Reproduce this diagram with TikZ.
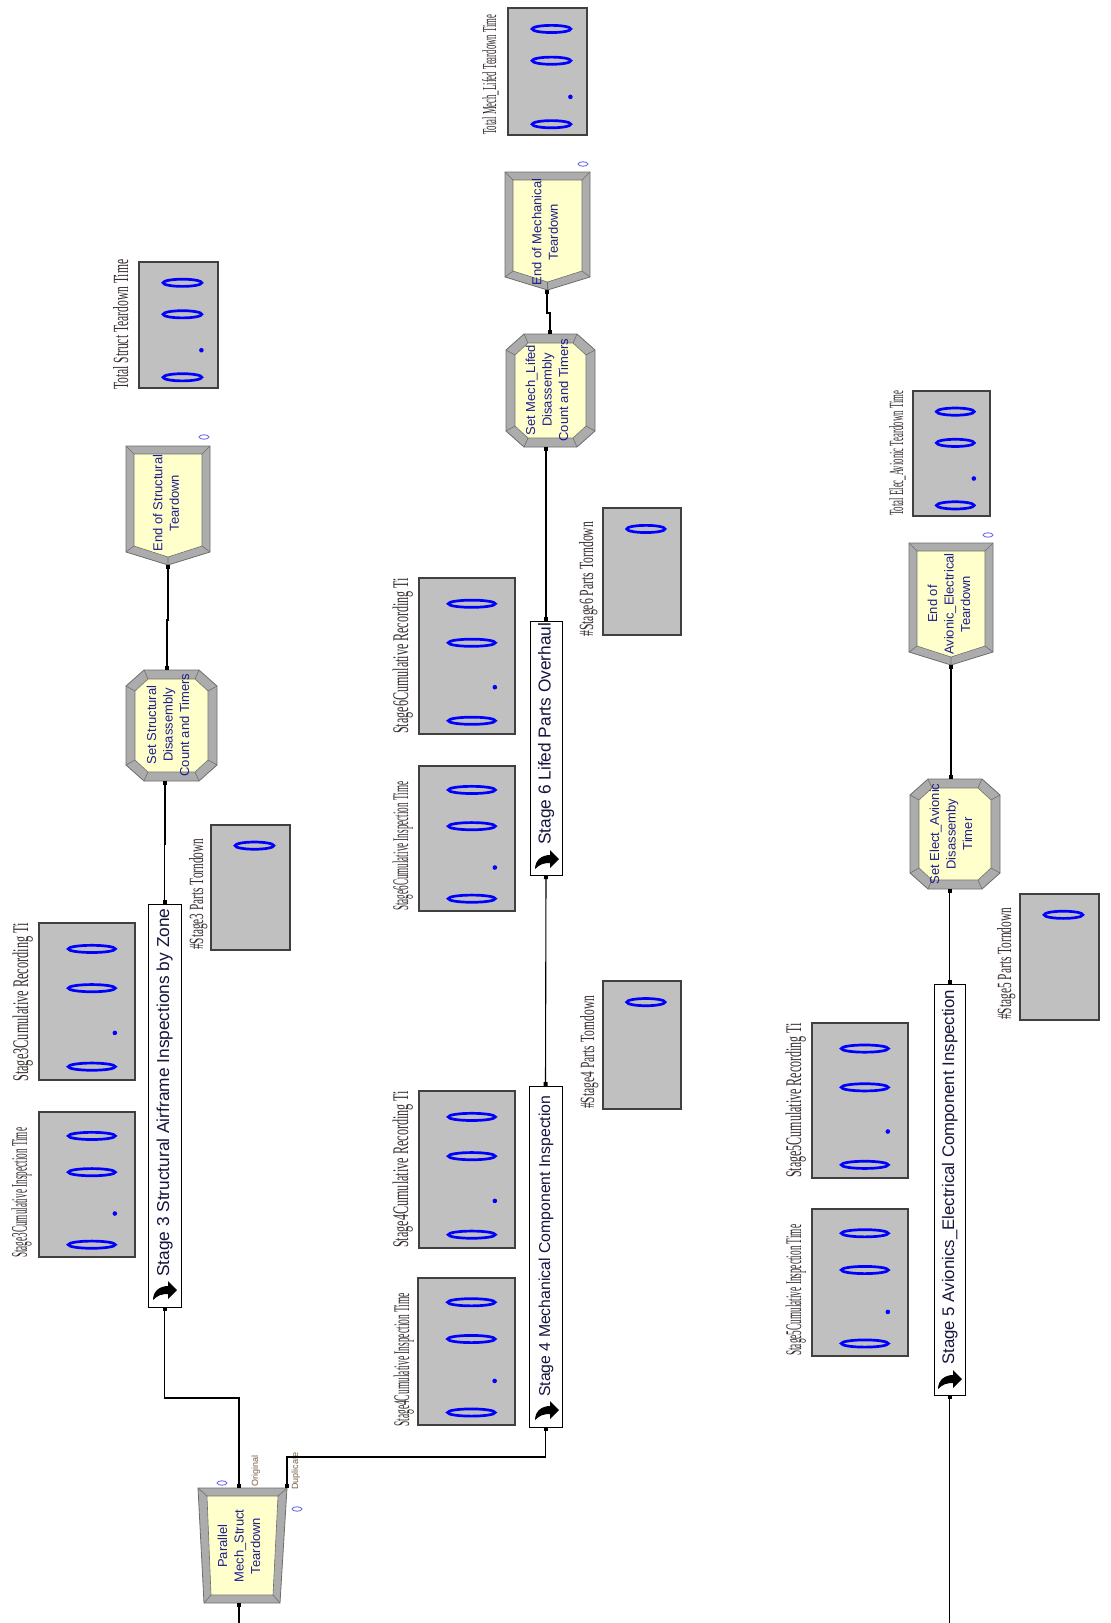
\documentclass[tikz,border=0pt]{standalone}
\usepackage{fontspec}
\usepackage{graphicx}
\setmainfont{Liberation Sans}
\newfontfamily\lblfont{Liberation Serif}
\usetikzlibrary{arrows.meta}
\definecolor{modyellow}{RGB}{255,255,204}
\definecolor{bevel}{RGB}{172,172,172}
\definecolor{beveldark}{RGB}{110,110,110}
\definecolor{dispgray}{RGB}{192,192,192}
\definecolor{digitblue}{RGB}{0,0,255}
\definecolor{modtext}{RGB}{30,30,140}
\definecolor{stagetextc}{RGB}{20,20,60}
\definecolor{lbltext}{RGB}{55,45,45}
\definecolor{smalltext}{RGB}{120,95,70}
\definecolor{countc}{RGB}{110,110,230}

\tikzset{
  conn/.style={line width=1.1pt, draw=black, arrows={Square[length=4pt,width=4pt]-Square[length=4pt,width=4pt]}},
  connin/.style={line width=1.1pt, draw=black, arrows={-Square[length=4pt,width=4pt]}},
  stagebox/.style={draw=black, fill=white, line width=1pt, inner sep=0pt, outer sep=0pt, rotate=90},
  stagetxt/.style={text=stagetextc, inner sep=0pt, rotate=90, anchor=base west},
  modtxt/.style={text=modtext, font=\fontsize{13}{16.5}\selectfont, align=center, inner sep=0pt, rotate=90},
  disp/.style={draw=black!75, fill=dispgray, line width=1.3pt, inner sep=0pt, outer sep=0pt},
  digit/.style={draw=digitblue, line width=2.7pt},
  lbl/.style={text=lbltext, inner sep=0pt, font=\lblfont, rotate=90, anchor=base west},
  smalllbl/.style={text=smalltext, inner sep=0pt, font=\fontsize{9}{10}\selectfont, rotate=90, anchor=base west},
  counter/.style={draw=countc, line width=0.9pt},
  bevelfill/.style={fill=bevel, draw=beveldark, line width=0.8pt},
  innerfill/.style={fill=modyellow, draw=beveldark, line width=0.6pt},
  bevelline/.style={draw=beveldark, line width=0.6pt},
}

\newcommand\dispbox[6]{%
  \pgfmathsetmacro\dispW{#4-#2}%
  \pgfmathsetmacro\dispH{#5-#3}%
  \node[disp, minimum width=\dispW pt, minimum height=\dispH pt, anchor=north west] (#1) at (#2,#3) {};
  \pgfmathsetmacro\dispEX{#2+0.55*\dispW}%
  \pgfmathsetmacro\dispRX{0.245*\dispW}%
  \pgfmathsetmacro\dispYA{#3+0.165*\dispH}%
  \draw[digit] (\dispEX,\dispYA) ellipse [x radius=\dispRX pt, y radius=3.6pt];
  \ifnum#6=4
    \pgfmathsetmacro\dispYB{#3+0.415*\dispH}%
    \pgfmathsetmacro\dispYC{#3+0.915*\dispH}%
    \pgfmathsetmacro\dispDX{#2+0.79*\dispW}%
    \pgfmathsetmacro\dispDY{#3+0.70*\dispH}%
    \draw[digit] (\dispEX,\dispYB) ellipse [x radius=\dispRX pt, y radius=3.6pt];
    \draw[digit] (\dispEX,\dispYC) ellipse [x radius=\dispRX pt, y radius=3.6pt];
    \fill[digitblue] (\dispDX,\dispDY) circle [radius=2.3pt];
  \fi
}

\newcommand\octmod[4]{%
  \filldraw[bevelfill] ({#1+18},#2) -- ({#3-18},#2) -- (#3,{#2+16}) -- (#3,{#4-16}) -- ({#3-18},#4) -- ({#1+18},#4) -- (#1,{#4-16}) -- (#1,{#2+16}) -- cycle;
  \filldraw[innerfill] ({#1+22},{#2+9}) -- ({#3-22},{#2+9}) -- ({#3-9},{#2+21}) -- ({#3-9},{#4-21}) -- ({#3-22},{#4-9}) -- ({#1+22},{#4-9}) -- ({#1+9},{#4-21}) -- ({#1+9},{#2+21}) -- cycle;
  \draw[bevelline] ({#1+18},#2) -- ({#1+22},{#2+9}) ({#3-18},#2) -- ({#3-22},{#2+9})
    (#3,{#2+16}) -- ({#3-9},{#2+21}) (#3,{#4-16}) -- ({#3-9},{#4-21})
    ({#3-18},#4) -- ({#3-22},{#4-9}) ({#1+18},#4) -- ({#1+22},{#4-9})
    (#1,{#4-16}) -- ({#1+9},{#4-21}) (#1,{#2+16}) -- ({#1+9},{#2+21});
}

\newcommand\dispmod[4]{%
  \filldraw[bevelfill] (#1,#2) -- (#3,#2) -- (#3,{#4-13}) -- ({(#1+#3)/2},#4) -- (#1,{#4-13}) -- cycle;
  \filldraw[innerfill] ({#1+8},{#2+8}) -- ({#3-8},{#2+8}) -- ({#3-8},{#4-19}) -- ({(#1+#3)/2},{#4-8}) -- ({#1+8},{#4-19}) -- cycle;
  \draw[bevelline] (#1,#2) -- ({#1+8},{#2+8}) (#3,#2) -- ({#3-8},{#2+8})
    (#3,{#4-13}) -- ({#3-8},{#4-19}) ({(#1+#3)/2},#4) -- ({(#1+#3)/2},{#4-8})
    (#1,{#4-13}) -- ({#1+8},{#4-19});
}

\newcommand\subicon[2]{%
  \begin{scope}[shift={(#1,#2)}]
    \fill[black] (12,-1) -- (3,-10) -- (3,-5) .. controls (-5,-5) and (-12,0) .. (-12,9) .. controls (-7,4) and (-3,3) .. (3,3) -- (3,8) -- cycle;
  \end{scope}
}

\begin{document}
\begin{tikzpicture}[x={(1pt,0)}, y={(0,-1pt)}]
\useasboundingbox (0,0) rectangle (1111,1623);
\fill[white] (0,0) rectangle (1111,1623);

% ---------------- Parallel (Separate) module ----------------
\filldraw[bevelfill] (198,1488) -- (287,1488) -- (280,1603) -- (204,1603) -- cycle;
\filldraw[innerfill] (207,1496) -- (278,1496) -- (273,1595) -- (211,1595) -- cycle;
\draw[bevelline] (198,1488) -- (207,1496) (287,1488) -- (278,1496) (280,1603) -- (273,1595) (204,1603) -- (211,1595);
\node[modtxt] (par) at (239,1546) {Parallel\\Mech\_Struct\\Teardown};
\coordinate (par-in) at (239,1603);
\coordinate (par-o1) at (239,1488);
\coordinate (par-o2) at (287,1488);
\coordinate (par-src) at (239,1623);
\draw[counter] (222,1483) ellipse [x radius=5pt, y radius=2.2pt];
\draw[counter] (297,1509) ellipse [x radius=5pt, y radius=2.2pt];
\node[smalllbl] (orig) at (258,1487) {Original};
\node[smalllbl] (dup) at (298,1490) {Duplicate};

% ---------------- Stage boxes ----------------
\node[stagebox, minimum width=403pt, minimum height=33pt] (st3) at (164.5,1105.5) {};
\node[stagetxt, font=\fontsize{17.3}{20}\selectfont] (st3t) at (169,1277) {Stage 3 Structural Airframe Inspections by Zone};
\subicon{165}{1291}

\node[stagebox, minimum width=341pt, minimum height=33pt] (st4) at (545.5,1256.5) {};
\node[stagetxt, font=\fontsize{15.8}{19}\selectfont] (st4t) at (550,1397) {Stage 4 Mechanical Component Inspection};
\subicon{547}{1411}

\node[stagebox, minimum width=254pt, minimum height=32pt] (st6) at (546,748) {};
\node[stagetxt, font=\fontsize{17.3}{20}\selectfont] (st6t) at (550.5,845) {Stage 6 Lifed Parts Overhaul};
\subicon{547}{860}

\node[stagebox, minimum width=411pt, minimum height=31pt] (st5) at (949.5,1189.5) {};
\node[stagetxt, font=\fontsize{16.8}{20}\selectfont] (st5t) at (954,1365) {Stage 5 Avionics\_Electrical Component Inspection};
\subicon{950}{1380}

% ---------------- Assign modules ----------------
\octmod{126}{670}{217}{781}
\node[modtxt] (ss) at (168,725) {Set Structural\\Disassembly\\Count and Timers};
\coordinate (ss-in) at (165,781);
\coordinate (ss-out) at (167,670);

\octmod{506}{334}{595}{447}
\node[modtxt] (sm) at (547,390) {Set Mech\_Lifed\\Disassembly\\Count and Timers};
\coordinate (sm-in) at (546,447);
\coordinate (sm-out) at (550,334);

\octmod{910}{779}{1000}{889}
\node[modtxt] (se) at (951,834) {Set Elect\_Avionic\\Disassemby\\Timer};
\coordinate (se-in) at (949.5,889);
\coordinate (se-out) at (951,779);

% ---------------- Dispose modules ----------------
\dispmod{126}{446}{210}{565}
\node[modtxt] (es) at (166,503) {End of Structural\\Teardown};
\coordinate (es-in) at (168,565);
\draw[counter] (204,437) ellipse [x radius=5pt, y radius=2.2pt];

\dispmod{505}{172}{590}{290}
\node[modtxt] (em) at (545,232) {End of Mechanical\\Teardown};
\coordinate (em-in) at (547,290);
\draw[counter] (583,164) ellipse [x radius=5pt, y radius=2.2pt];

\dispmod{909}{543}{993}{665}
\node[modtxt] (ea) at (949,604) {End of\\Avionic\_Electrical\\Teardown};
\coordinate (ea-in) at (951,665);
\draw[counter] (988,535) ellipse [x radius=5pt, y radius=2.2pt];

% ---------------- Connectors ----------------
\draw[connin] (par-src) -- (par-in);
\draw[conn] (par-o1) -- ++(0,-90) -| (st3.west);
\draw[conn] (par-o2) -- ++(0,-31) -| (st4.west);
\draw[conn] (st3.east) -- ++(0,-60) -| (ss-in);
\draw[conn] (ss-out) -- ++(0,-50) -| (es-in);
\draw[conn] (st4.east) -- (st6.west);
\draw[conn] (st6.east) -- (sm-in);
\draw[conn] (sm-out) -- ++(0,-21) -| (em-in);
\coordinate (st5-src) at (949.5,1623);
\draw[connin] (st5-src) -- (st5.west);
\draw[conn] (st5.east) -- (se-in);
\draw[conn] (se-out) -- (ea-in);

% ---------------- Displays ----------------
\dispbox{d3rec}{39}{923}{135}{1080}{4}
\dispbox{d3insp}{39}{1112}{135}{1257}{4}
\dispbox{dtot3}{139}{262}{218}{388}{4}
\dispbox{dp3}{211}{825}{290}{950}{1}
\dispbox{d6rec}{419}{578}{515}{734}{4}
\dispbox{d6insp}{419}{766}{515}{911}{4}
\dispbox{d4rec}{419}{1091}{515}{1248}{4}
\dispbox{d4insp}{418}{1278}{515}{1425}{4}
\dispbox{dp6}{603}{508}{681}{635}{1}
\dispbox{dp4}{603}{981}{681}{1109}{1}
\dispbox{dtotm}{508}{8}{587}{135}{4}
\dispbox{dtote}{913}{391}{990}{516}{4}
\dispbox{d5rec}{812}{1023}{908}{1178}{4}
\dispbox{d5insp}{812}{1209}{908}{1356}{4}
\dispbox{dp5}{1020}{894}{1099}{1020}{1}

% ---------------- Display labels ----------------
\node[lbl] (l3rec) at (28,1082) {\resizebox{159pt}{15.5pt}{Stage3Cumulative Recording Ti}};
\node[lbl] (l3insp) at (27,1258) {\resizebox{130pt}{15.5pt}{Stage3Cumulative Inspection Time}};
\node[lbl] (ltot3) at (128,390) {\resizebox{130pt}{15pt}{Total Struct Teardown Time}};
\node[lbl] (lp3) at (203,950) {\resizebox{111pt}{14pt}{\#Stage3 Parts Torndown}};
\node[lbl] (l6rec) at (408,734) {\resizebox{156pt}{15.5pt}{Stage6Cumulative Recording Ti}};
\node[lbl] (l6insp) at (408,911) {\resizebox{129pt}{15.5pt}{Stage6Cumulative Inspection Time}};
\node[lbl] (l4rec) at (408,1248) {\resizebox{157pt}{15.5pt}{Stage4Cumulative Recording Ti}};
\node[lbl] (l4insp) at (409,1427) {\resizebox{134pt}{15.5pt}{Stage4Cumulative Inspection Time}};
\node[lbl] (lp6) at (593,637) {\resizebox{115pt}{14pt}{\#Stage6 Parts Torndown}};
\node[lbl] (lp4) at (594,1109) {\resizebox{113pt}{14pt}{\#Stage4 Parts Torndown}};
\node[lbl] (ltotm) at (496,135) {\resizebox{120pt}{14pt}{Total Mech\_Lifed Teardown Time}};
\node[lbl] (ltote) at (903,516) {\resizebox{125pt}{14pt}{Total Elec\_Avionic Teardown Time}};
\node[lbl] (l5rec) at (801,1178) {\resizebox{155pt}{15.5pt}{Stage5Cumulative Recording Ti}};
\node[lbl] (l5insp) at (801,1356) {\resizebox{131pt}{15.5pt}{Stage5Cumulative Inspection Time}};
\node[lbl] (lp5) at (1011,1020) {\resizebox{112pt}{14pt}{\#Stage5 Parts Torndown}};
\end{tikzpicture}
\end{document}
